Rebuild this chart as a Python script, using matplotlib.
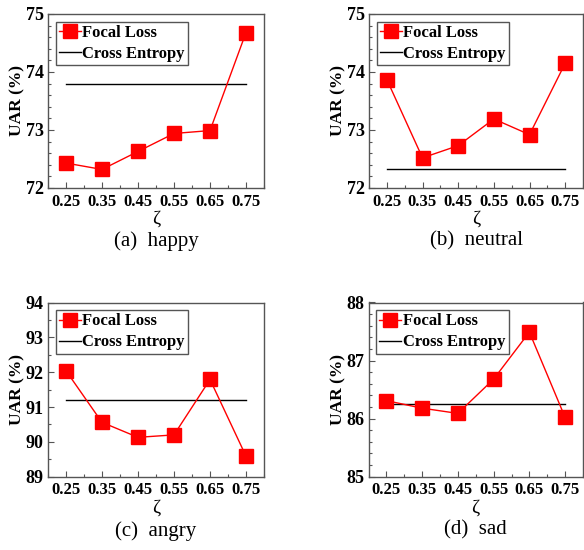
import matplotlib
matplotlib.use("Agg")
import matplotlib.pyplot as plt
from matplotlib.ticker import MultipleLocator

zeta = [0.25, 0.35, 0.45, 0.55, 0.65, 0.75]
xtick_labels = ["0.25", "0.35", "0.45", "0.55", "0.65", "0.75"]

happy_focal = [72.43, 72.32, 72.63, 72.94, 72.99, 74.68]
happy_ce = 73.79
neutral_focal = [73.87, 72.52, 72.73, 73.19, 72.92, 74.15]
neutral_ce = 72.33
angry_focal = [92.04, 90.56, 90.13, 90.20, 91.79, 89.59]
angry_ce = 91.19
sad_focal = [86.31, 86.18, 86.09, 86.68, 87.49, 86.02]
sad_ce = 86.26

captions = ["(a)  happy", "(b)  neutral", "(c)  angry", "(d)  sad"]

panels = [
    (happy_focal, happy_ce, (72, 75), 1, 0.2),
    (neutral_focal, neutral_ce, (72, 75), 1, 0.2),
    (angry_focal, angry_ce, (89, 94), 1, 0.5),
    (sad_focal, sad_ce, (85, 88), 1, 0.2),
]

plt.rcParams['font.family'] = ['Liberation Serif', 'DejaVu Serif']

W, H = 584, 550
fig = plt.figure(figsize=(W / 100, H / 100), dpi=100)

# axes boxes in pixels: left, top, right, bottom
boxes = [
    (48, 14, 264, 188),
    (369, 14, 583, 188),
    (48, 302.5, 264, 476.7),
    (368.5, 302.5, 583, 476.7),
]
cap_y = [241, 241, 531, 530]

spine_col = '#555555'

for i, ((focal, ce, ylim, major, minor), box) in enumerate(zip(panels, boxes)):
    l, t, r, b = box
    ax = fig.add_axes([l / W, 1 - b / H, (r - l) / W, (b - t) / H])
    ax.plot(zeta, focal, color='#ff0000', lw=1.0, marker='s', markersize=9.5,
            markerfacecolor='#ff0000', markeredgecolor='#ff0000', label='Focal Loss', zorder=3)
    ax.plot([zeta[0], zeta[-1]], [ce, ce], color='black', lw=1.0, label='Cross Entropy', zorder=2)
    ax.set_xlim(0.2, 0.8)
    ax.set_ylim(*ylim)
    ax.set_xticks(zeta)
    ax.set_xticklabels(xtick_labels)
    ax.xaxis.set_minor_locator(MultipleLocator(0.05))
    ax.yaxis.set_major_locator(MultipleLocator(major))
    ax.yaxis.set_minor_locator(MultipleLocator(minor))
    ax.tick_params(axis='both', which='major', direction='in', length=4, width=0.8,
                   color=spine_col, pad=4)
    ax.tick_params(axis='x', which='major', labelsize=12)
    ax.tick_params(axis='y', which='major', labelsize=13, pad=3)
    ax.tick_params(axis='both', which='minor', direction='in', length=2.5, width=0.8,
                   color=spine_col)
    for lab in ax.get_xticklabels() + ax.get_yticklabels():
        lab.set_fontweight('bold')
    for sp in ax.spines.values():
        sp.set_color(spine_col)
        sp.set_linewidth(1.0)
    ax.set_ylabel('UAR (%)', fontsize=12.5, fontweight='bold', labelpad=0)
    ax.set_xlabel('ζ', fontsize=14, labelpad=1)
    leg = ax.legend(loc='upper left', prop={'weight': 'bold', 'size': 12}, frameon=True,
                    fancybox=False, edgecolor=spine_col, framealpha=1,
                    borderpad=0.2, labelspacing=0.3, handlelength=1.3, handletextpad=0.1,
                    borderaxespad=0.45)
    leg.get_frame().set_linewidth(1.0)
    cx = (l + r) / 2
    fig.text(cx / W, 1 - cap_y[i] / H, captions[i], ha='center', va='center', fontsize=15)

fig.savefig('out.png', dpi=100)
